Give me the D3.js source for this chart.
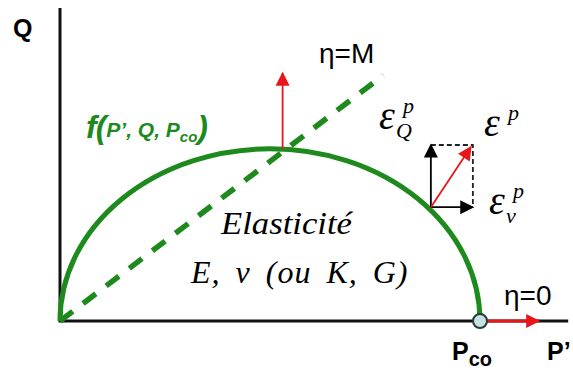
<!DOCTYPE html>
<html>
<head>
<meta charset="utf-8">
<script src="https://cdn.jsdelivr.net/npm/d3@7"></script>
<style>
  body { margin: 0; background: #fff; }
  svg { display: block; }
  .sans { font-family: "Liberation Sans", Arial, sans-serif; }
  .serif { font-family: "Liberation Serif", "Times New Roman", serif; font-style: italic; }
</style>
</head>
<body>
<div id="chart"></div>
<script>
// schematic values, in normalised units (P' / Pco)
var pco = 1;
var qTop = 0.41;          // half height of the yield ellipse
var slopeM = 0.76;        // critical state line eta = M
var cslEnd = 0.77;        // where the dashed line stops
var axisEnd = [1.21, 0.745];   // [p', q] extent of the axes
var normalArrow = { p: 0.53, q0: 0.41, q1: 0.59 };
var flowPoint = { p: 0.883, q: 0.271, dp: 0.1, dq: 0.148 };
var eta0Arrow = [1.0, 1.14];

var width = 573, height = 371;
var green = '#1e8a1e', red = '#e8161b';

var x = d3.scaleLinear().domain([0, 1]).range([60, 480]);
var y = d3.scaleLinear().domain([0, 1]).range([321, -99]);

var svg = d3.select('#chart').append('svg')
  .attr('width', width)
  .attr('height', height);

var defs = svg.append('defs');
function marker(id, color, w, h) {
  defs.append('marker')
    .attr('id', id)
    .attr('viewBox', '0 0 10 10')
    .attr('refX', 9).attr('refY', 5)
    .attr('markerUnits', 'userSpaceOnUse')
    .attr('markerWidth', w).attr('markerHeight', h)
    .attr('orient', 'auto')
    .append('path')
    .attr('d', 'M0,0 L10,5 L0,10 Z')
    .attr('fill', color);
}
marker('redHead', red, 15, 14);
marker('blackHead', '#000', 15, 14);

// axes
svg.append('path')
  .attr('d', 'M' + x(0) + ',' + y(axisEnd[1]) + 'V' + y(0) + 'H' + x(axisEnd[0]))
  .attr('fill', 'none')
  .attr('stroke', '#111')
  .attr('stroke-width', 3);

// critical state line
svg.append('line')
  .attr('x1', x(0)).attr('y1', y(0))
  .attr('x2', x(cslEnd)).attr('y2', y(slopeM * cslEnd))
  .attr('stroke', green)
  .attr('stroke-width', 5.5)
  .attr('stroke-dasharray', '16,13');

// yield ellipse
var rx = x(pco / 2) - x(0), ry = y(0) - y(qTop);
svg.append('path')
  .attr('d', 'M' + x(0) + ',' + y(0) + ' A' + rx + ',' + ry + ' 0 0 1 ' + x(pco) + ',' + y(0))
  .attr('fill', 'none')
  .attr('stroke', green)
  .attr('stroke-width', 5);

// normal arrow at the crossing
svg.append('line')
  .attr('x1', x(normalArrow.p)).attr('y1', y(normalArrow.q0))
  .attr('x2', x(normalArrow.p)).attr('y2', y(normalArrow.q1))
  .attr('stroke', red).attr('stroke-width', 1.8)
  .attr('marker-end', 'url(#redHead)');

// eta = 0 arrow
svg.append('line')
  .attr('x1', x(eta0Arrow[0])).attr('y1', y(0))
  .attr('x2', x(eta0Arrow[1])).attr('y2', y(0))
  .attr('stroke', red).attr('stroke-width', 3)
  .attr('marker-end', 'url(#redHead)');

svg.append('circle')
  .attr('cx', x(pco)).attr('cy', y(0)).attr('r', 7)
  .attr('fill', '#c4e2e2')
  .attr('stroke', '#2a3a3a')
  .attr('stroke-width', 2);

// plastic flow vector decomposition
var fp = flowPoint;
svg.append('path')
  .attr('d', 'M' + x(fp.p) + ',' + y(fp.q + fp.dq) + 'H' + x(fp.p + fp.dp) + 'V' + y(fp.q))
  .attr('fill', 'none')
  .attr('stroke', '#222')
  .attr('stroke-width', 1.8)
  .attr('stroke-dasharray', '5,3');
svg.append('line')
  .attr('x1', x(fp.p)).attr('y1', y(fp.q))
  .attr('x2', x(fp.p)).attr('y2', y(fp.q + fp.dq))
  .attr('stroke', '#000').attr('stroke-width', 1.8)
  .attr('marker-end', 'url(#blackHead)');
svg.append('line')
  .attr('x1', x(fp.p)).attr('y1', y(fp.q))
  .attr('x2', x(fp.p + fp.dp)).attr('y2', y(fp.q))
  .attr('stroke', '#000').attr('stroke-width', 1.8)
  .attr('marker-end', 'url(#blackHead)');
svg.append('line')
  .attr('x1', x(fp.p)).attr('y1', y(fp.q))
  .attr('x2', x(fp.p + fp.dp) - 2).attr('y2', y(fp.q + fp.dq) + 2)
  .attr('stroke', red).attr('stroke-width', 1.8)
  .attr('marker-end', 'url(#redHead)');

// labels
svg.append('text').attr('class', 'sans')
  .attr('x', 13).attr('y', 37)
  .attr('font-size', 25).attr('font-weight', 'bold')
  .text('Q');

var pLab = svg.append('text').attr('class', 'sans')
  .attr('x', 452).attr('y', 360)
  .attr('font-size', 25).attr('font-weight', 'bold');
pLab.append('tspan').text('P');
pLab.append('tspan').attr('font-size', 20).attr('dy', 6).text('co');

svg.append('text').attr('class', 'sans')
  .attr('x', 547).attr('y', 360)
  .attr('font-size', 25).attr('font-weight', 'bold')
  .text('P\u2019');

svg.append('text').attr('class', 'sans')
  .attr('x', 319).attr('y', 63)
  .attr('font-size', 28)
  .text('\u03b7=M');

svg.append('text').attr('class', 'sans')
  .attr('x', 504).attr('y', 305)
  .attr('font-size', 28)
  .text('\u03b7=0');

var fLab = svg.append('text').attr('class', 'sans')
  .attr('x', 86).attr('y', 138)
  .attr('fill', green)
  .attr('font-weight', 'bold')
  .attr('font-style', 'italic');
fLab.append('tspan').attr('font-size', 32).text('f');
fLab.append('tspan').attr('font-size', 32).attr('dx', -1).text('(');
fLab.append('tspan').attr('font-size', 21).attr('dy', -1).text('P\u2019, Q, P');
fLab.append('tspan').attr('font-size', 15).attr('dy', 5).text('co');
fLab.append('tspan').attr('font-size', 32).attr('dy', -4).text(')');

svg.append('text').attr('class', 'serif')
  .attr('x', 221).attr('y', 234)
  .attr('font-size', 32)
  .attr('textLength', 131).attr('lengthAdjust', 'spacingAndGlyphs')
  .text('Elasticit\u00e9');

svg.append('text').attr('class', 'serif')
  .attr('x', 191).attr('y', 283)
  .attr('font-size', 32)
  .attr('letter-spacing', 1)
  .attr('word-spacing', 6)
  .text('E, \u03bd (ou K, G)');

function eps(x0, y0, sup, sub) {
  svg.append('text').attr('class', 'serif')
    .attr('x', x0).attr('y', y0)
    .attr('font-size', 40)
    .text('\u03b5');
  svg.append('text').attr('class', 'serif')
    .attr('x', x0 + 24).attr('y', y0 - 16)
    .attr('font-size', 22)
    .text(sup);
  if (sub) {
    svg.append('text').attr('class', 'serif')
      .attr('x', x0 + 17).attr('y', y0 + 9)
      .attr('font-size', 22)
      .text(sub);
  }
}
eps(379, 129, 'p', 'Q');
eps(484, 136, 'p');
eps(489, 214, 'p', 'v');
</script>
</body>
</html>
